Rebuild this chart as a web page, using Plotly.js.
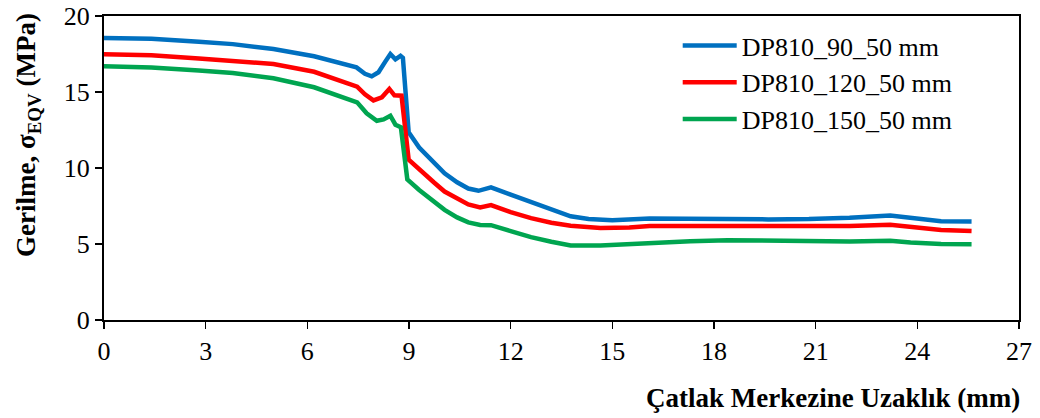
<!DOCTYPE html>
<html>
<head>
<meta charset="utf-8">
<script src="https://cdn.plot.ly/plotly-3.0.1.min.js"></script>
<style>html,body{margin:0;padding:0;background:#fff;}#chart{width:1040px;height:418px;}</style>
</head>
<body>
<div id="chart"></div>
<script>
// Series names
const seriesNames = ["DP810_90_50 mm", "DP810_120_50 mm", "DP810_150_50 mm"];

// Distance from crack centre (mm) and equivalent stress (MPa)
const x90 = [0, 1.4, 2.8, 3.8, 5.0, 6.2, 7.45, 7.7, 7.9, 8.1, 8.3, 8.45, 8.6, 8.75, 8.82, 8.99, 9.3, 9.73, 10.05, 10.42, 10.75, 11.05, 11.42, 12.0, 12.6, 13.2, 13.77, 14.3, 15.0, 16.1, 17.3, 18.5, 19.6, 20.8, 22.0, 23.2, 23.8, 24.7, 25.6];
const y90 = [18.55, 18.5, 18.3, 18.15, 17.83, 17.35, 16.62, 16.2, 16.03, 16.3, 17.0, 17.5, 17.15, 17.38, 17.25, 12.35, 11.35, 10.37, 9.65, 9.06, 8.65, 8.5, 8.73, 8.25, 7.78, 7.28, 6.82, 6.65, 6.56, 6.68, 6.64, 6.67, 6.62, 6.64, 6.72, 6.88, 6.7, 6.5, 6.48];

const x120 = [0, 1.4, 2.8, 3.8, 5.0, 6.2, 7.47, 7.7, 7.95, 8.2, 8.42, 8.57, 8.78, 8.99, 9.3, 9.73, 10.05, 10.42, 10.75, 11.1, 11.42, 12.0, 12.6, 13.2, 13.77, 14.65, 15.5, 16.1, 17.3, 18.5, 19.6, 20.8, 22.0, 23.2, 23.8, 24.7, 25.6];
const y120 = [17.48, 17.42, 17.2, 17.05, 16.84, 16.33, 15.35, 14.85, 14.45, 14.65, 15.2, 14.78, 14.76, 10.55, 9.9, 9.06, 8.45, 7.96, 7.6, 7.41, 7.56, 7.1, 6.7, 6.4, 6.2, 6.05, 6.08, 6.18, 6.18, 6.2, 6.16, 6.15, 6.18, 6.27, 6.1, 5.92, 5.85];

const x150 = [0, 1.4, 2.8, 3.8, 5.0, 6.2, 7.47, 7.75, 8.05, 8.25, 8.45, 8.6, 8.76, 8.95, 9.3, 9.73, 10.05, 10.42, 10.75, 11.1, 11.42, 12.0, 12.6, 13.2, 13.77, 14.65, 15.5, 16.1, 17.3, 18.4, 19.4, 20.8, 22.0, 23.2, 23.8, 24.7, 25.6];
const y150 = [16.69, 16.62, 16.42, 16.25, 15.9, 15.31, 14.32, 13.6, 13.11, 13.2, 13.44, 12.85, 12.68, 9.25, 8.55, 7.85, 7.25, 6.75, 6.42, 6.25, 6.24, 5.85, 5.45, 5.15, 4.9, 4.9, 5.0, 5.1, 5.18, 5.25, 5.22, 5.2, 5.17, 5.22, 5.1, 5.0, 4.98];

// Axis settings (tick values)
const xTicks = [0, 3, 6, 9, 12, 15, 18, 21, 24, 27];
const yTicks = [0, 5, 10, 15, 20];

const xTitle = "Çatlak Merkezine Uzaklık (mm)";
const yTitle = "Gerilme, σ<sub>EQV</sub> (MPa)";

const colors = ["#0070C0", "#FF0000", "#00A550"];
const xs = [x90, x120, x150];
const ys = [y90, y120, y150];

const traces = seriesNames.map((name, i) => ({
  x: xs[i], y: ys[i], name: name, type: "scatter", mode: "lines",
  line: {color: colors[i], width: 4.5, shape: "linear"}
}));

const FONT = "'Liberation Serif', 'Times New Roman', serif";

const layout = {
  width: 1040, height: 418,
  margin: {l: 104, r: 21, t: 16, b: 98},
  paper_bgcolor: "#fff", plot_bgcolor: "#fff",
  font: {family: FONT, size: 26, color: "#000"},
  showlegend: true,
  legend: {x: 0.627, y: 0.98, xanchor: "left", yanchor: "top",
           bgcolor: "rgba(0,0,0,0)", font: {family: FONT, size: 26, color: "#000"},
           itemwidth: 54},
  xaxis: {range: [0, 27], tickvals: xTicks, ticks: "outside", ticklen: 7, tickwidth: 1.5,
          tickcolor: "#000", showline: true, linecolor: "#000", linewidth: 2, mirror: true,
          showgrid: false, zeroline: false, tickfont: {family: FONT, size: 26}},
  yaxis: {range: [0, 20], tickvals: yTicks, ticks: "outside", ticklen: 7, tickwidth: 1.5,
          tickcolor: "#000", showline: true, linecolor: "#000", linewidth: 2, mirror: true,
          showgrid: false, zeroline: false, tickfont: {family: FONT, size: 26}},
  annotations: [
    {text: "<b>" + xTitle + "</b>", xref: "paper", yref: "paper", x: 1.003, y: -0.257,
     xanchor: "right", yanchor: "middle", showarrow: false, font: {family: FONT, size: 27}},
    {text: "<b>" + yTitle + "</b>", xref: "paper", yref: "paper", x: -0.083, y: 0.609,
     xanchor: "center", yanchor: "middle", textangle: -90, showarrow: false, font: {family: FONT, size: 27}}
  ]
};

Plotly.newPlot("chart", traces, layout, {displayModeBar: false, staticPlot: true});
</script>
</body>
</html>
